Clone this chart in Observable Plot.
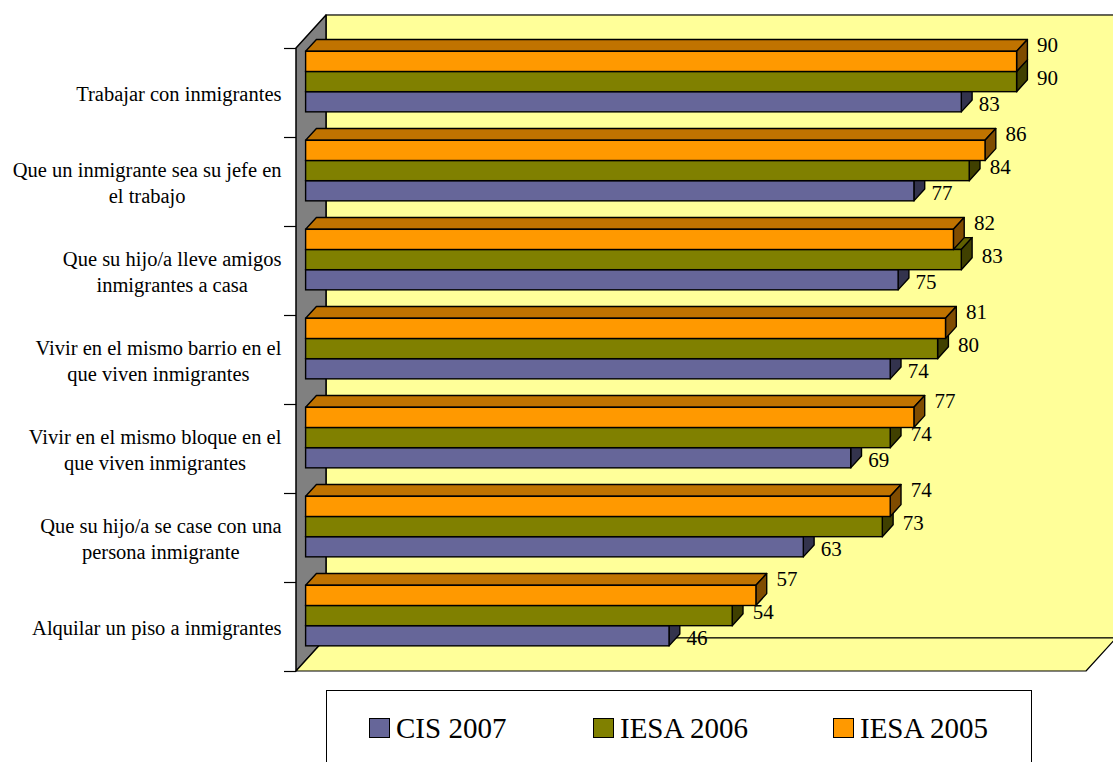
<!DOCTYPE html>
<html>
<head>
<meta charset="utf-8">
<script src="https://cdn.jsdelivr.net/npm/d3@7"></script>
<script src="https://cdn.jsdelivr.net/npm/@observablehq/plot@0.6"></script>
<style>
  body { margin: 0; background: #fff; font-family: "Liberation Serif", "Times New Roman", serif; }
  #chart { position: relative; width: 1113px; height: 762px; overflow: hidden; }
  #chart svg { position: absolute; left: 0; top: 0; }
  #chart svg text { font-family: "Liberation Serif", "Times New Roman", serif; }
  #legend { position: absolute; left: 326px; top: 690px; width: 706px; height: 90px;
            border: 1px solid #000; box-sizing: border-box; background: #fff; }
  .item { position: absolute; top: 23px; font-size: 29px; line-height: 29px; white-space: nowrap; color: #000; }
  .sw { display: inline-block; width: 21px; height: 20px; border: 1px solid #000; box-sizing: border-box;
        vertical-align: baseline; margin-right: 6px; }
</style>
</head>
<body>
<div id="chart"><div id="legend"></div></div>
<script>
// Attitudes towards immigrants: share (%) that accepts each situation
const categories = [
  "Trabajar con inmigrantes",
  "Que un inmigrante sea su jefe en\nel trabajo",
  "Que su hijo/a lleve amigos\ninmigrantes a casa",
  "Vivir en el mismo barrio en el\nque viven inmigrantes",
  "Vivir en el mismo bloque en el\nque viven inmigrantes",
  "Que su hijo/a se case con una\npersona inmigrante",
  "Alquilar un piso a inmigrantes"
];
const seriesNames = ["IESA 2005", "IESA 2006", "CIS 2007"];
const iesa2005 = [90, 86, 82, 81, 77, 74, 57];
const iesa2006 = [90, 84, 83, 80, 74, 73, 54];
const cis2007  = [83, 77, 75, 74, 69, 63, 46];
const legendOrder = ["CIS 2007", "IESA 2006", "IESA 2005"];

const seriesValues = [iesa2005, iesa2006, cis2007];
const frontColor = ["#FF9900", "#808000", "#666699"];
const topColor   = ["#C07300", "#606000", "#4D4D73"];
const sideColor  = ["#804C00", "#404000", "#33334D"];

const SERIF = '"Liberation Serif", "Times New Roman", serif';
const N = categories.length;
const X_MAX = 100;
// depth of the 3D box (x in value units, y in category units)
const DX = 3.8, DY = 0.371;
// bars occupy the middle slab of the depth
const F0 = 0.32, F1 = 0.68;
// bar thickness and first-bar offset within each category band
const T = 0.2267, G0 = 0.156;
// label offsets (px) from the front-right edge of each bar
const labelDx = [20, 20, 17], labelDy = [-17, -4, 2];

const px = (x, f) => x + DX * f;
const py = (y, f) => y - DY * f;

const marks = [
  // back wall
  Plot.rect([0], {x1: px(0, 1), x2: px(X_MAX, 1), y1: py(0, 1), y2: py(N, 1),
                  fill: "#FFFF99", stroke: "#000", strokeWidth: 1.2}),
  // left wall
  Plot.areaY([{x: 0, y1: N, y2: 0}, {x: px(0, 1), y1: py(N, 1), y2: py(0, 1)}],
             {x: "x", y1: "y1", y2: "y2", fill: "#808080", stroke: "#000", strokeWidth: 1.5}),
  // floor
  Plot.areaX([{y: N, x1: 0, x2: X_MAX}, {y: py(N, 1), x1: px(0, 1), x2: px(X_MAX, 1)}],
             {y: "y", x1: "x1", x2: "x2", fill: "#FFFF99", stroke: "#000", strokeWidth: 1.2})
];

// bars drawn bottom series first so the upper bars cover the hidden faces
for (const s of [2, 1, 0]) {
  const rows = seriesValues[s].map((v, i) => ({i, v, top: i + G0 + s * T}));
  marks.push(
    Plot.areaX(rows.flatMap(d => [
        {i: d.i, y: py(d.top, F0), x1: px(0, F0), x2: px(d.v, F0)},
        {i: d.i, y: py(d.top, F1), x1: px(0, F1), x2: px(d.v, F1)}
      ]), {y: "y", x1: "x1", x2: "x2", z: "i", fill: topColor[s], stroke: "#000", strokeWidth: 1.4}),
    Plot.areaY(rows.flatMap(d => [
        {i: d.i, x: px(d.v, F0), y1: py(d.top + T, F0), y2: py(d.top, F0)},
        {i: d.i, x: px(d.v, F1), y1: py(d.top + T, F1), y2: py(d.top, F1)}
      ]), {x: "x", y1: "y1", y2: "y2", z: "i", fill: sideColor[s], stroke: "#000", strokeWidth: 1.4}),
    Plot.rect(rows, {x1: () => px(0, F0), x2: d => px(d.v, F0),
                     y1: d => py(d.top, F0), y2: d => py(d.top + T, F0),
                     fill: frontColor[s], stroke: "#000", strokeWidth: 1.4}),
    Plot.text(rows, {x: d => px(d.v, F0), y: d => py(d.top + T / 2, F0), text: d => String(d.v),
                     textAnchor: "start", dx: labelDx[s], dy: labelDy[s], fontSize: 21,
                     fontFamily: SERIF, fill: "#000"})
  );
}

// category axis: ticks on band edges, labels on band centres
marks.push(
  Plot.axisY(d3.range(N + 1), {tickSize: 12, tickFormat: () => "", strokeWidth: 1.2}),
  Plot.axisY(d3.range(N).map(i => i + 0.5), {
    tickSize: 0, tickPadding: 15, textAnchor: "end",
    tickFormat: d => categories[Math.floor(d)],
    fontSize: 20.5, lineHeight: 1.25, fontFamily: SERIF, fill: "#000"
  })
);

const chart = Plot.plot({
  width: 1113,
  height: 680,
  marginLeft: 296,
  marginRight: 27,
  marginTop: 48,
  marginBottom: 9,
  style: {fontFamily: SERIF, background: "transparent", overflow: "visible"},
  x: {domain: [0, X_MAX], axis: null},
  y: {domain: [0, N], reverse: true},
  marks
});

const container = document.getElementById("chart");
container.insertBefore(chart, container.firstChild);

// centre multi-line category labels on their own block, right-aligned to the axis
chart.querySelectorAll('g[aria-label="y-axis tick label"] text').forEach(t => {
  const w = t.getBBox().width;
  if (!w) return;
  t.setAttribute("text-anchor", "middle");
  const tr = t.getAttribute("transform") || "";
  t.setAttribute("transform", `${tr} translate(${-w / 2},0)`);
});

// legend
const legendLeft = [42, 266, 506];
const legend = document.getElementById("legend");
legendOrder.forEach((name, k) => {
  const s = seriesNames.indexOf(name);
  const item = document.createElement("div");
  item.className = "item";
  item.style.left = legendLeft[k] + "px";
  const sw = document.createElement("span");
  sw.className = "sw";
  sw.style.background = frontColor[s];
  item.appendChild(sw);
  item.appendChild(document.createTextNode(name));
  legend.appendChild(item);
});
</script>
</body>
</html>
